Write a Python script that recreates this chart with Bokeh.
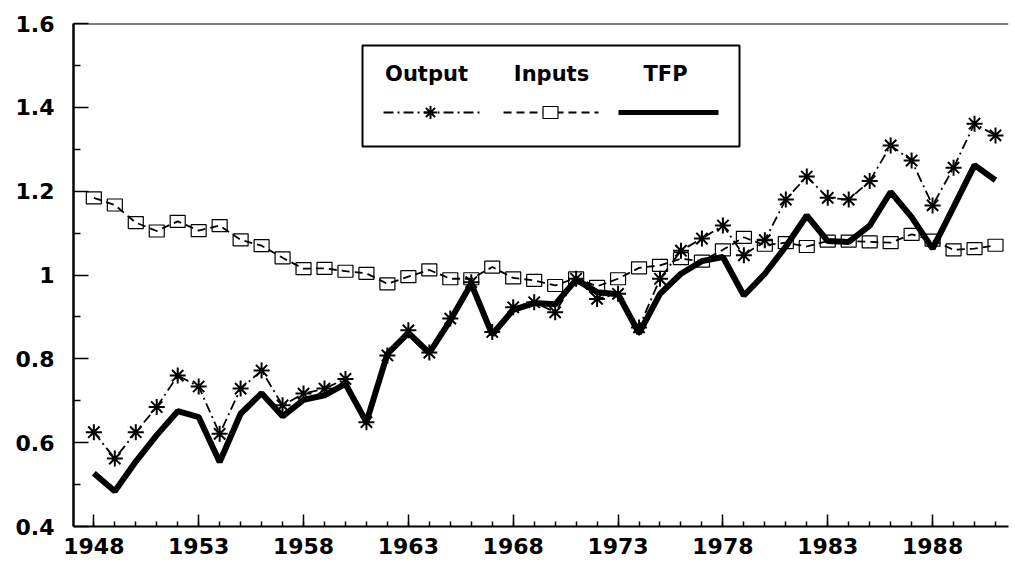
from bokeh.plotting import figure
from bokeh.models import Range1d, FixedTicker, Span, Label
from bokeh.embed import file_html
from bokeh.resources import INLINE

# ---------------- data ----------------
years = [1948, 1949, 1950, 1951, 1952, 1953, 1954, 1955, 1956, 1957, 1958,
         1959, 1960, 1961, 1962, 1963, 1964, 1965, 1966, 1967, 1968, 1969,
         1970, 1971, 1972, 1973, 1974, 1975, 1976, 1977, 1978, 1979, 1980,
         1981, 1982, 1983, 1984, 1985, 1986, 1987, 1988, 1989, 1990, 1991]

output = [0.625, 0.562, 0.625, 0.685, 0.760, 0.734, 0.621, 0.729, 0.772, 0.689,
          0.717, 0.729, 0.752, 0.649, 0.808, 0.868, 0.815, 0.896, 0.983, 0.864,
          0.923, 0.935, 0.911, 0.991, 0.943, 0.955, 0.875, 0.991, 1.058, 1.087,
          1.118, 1.047, 1.083, 1.180, 1.235, 1.184, 1.180, 1.224, 1.309, 1.273,
          1.166, 1.256, 1.361, 1.333]

inputs = [1.184, 1.167, 1.125, 1.105, 1.128, 1.106, 1.118, 1.084, 1.070, 1.041,
          1.015, 1.016, 1.009, 1.004, 0.979, 0.996, 1.012, 0.991, 0.991, 1.019,
          0.993, 0.987, 0.975, 0.993, 0.973, 0.991, 1.017, 1.023, 1.039, 1.033,
          1.060, 1.090, 1.071, 1.077, 1.068, 1.081, 1.081, 1.079, 1.077, 1.097,
          1.083, 1.060, 1.063, 1.071]

tfp = [0.527, 0.484, 0.555, 0.618, 0.675, 0.661, 0.554, 0.669, 0.718, 0.663,
       0.702, 0.713, 0.740, 0.649, 0.812, 0.862, 0.814, 0.892, 0.979, 0.858,
       0.917, 0.933, 0.930, 0.989, 0.959, 0.954, 0.861, 0.955, 1.003, 1.033,
       1.043, 0.951, 1.003, 1.068, 1.142, 1.081, 1.079, 1.118, 1.198, 1.138,
       1.063, 1.162, 1.262, 1.226]

x_tick_years = [1948, 1953, 1958, 1963, 1968, 1973, 1978, 1983, 1988]
y_ticks = [0.4, 0.6, 0.8, 1.0, 1.2, 1.4, 1.6]
y_tick_labels = ["0.4", "0.6", "0.8", "1", "1.2", "1.4", "1.6"]
y_minor = [0.5, 0.7, 0.9, 1.1, 1.3, 1.5]
series_names = ["Output", "Inputs", "TFP"]

# ---------------- layout helpers ----------------
X0, X1 = 1947.03, 1991.62
Y0, Y1 = 0.4, 1.6
FRAME_L, FRAME_T, FRAME_W, FRAME_H = 73, 23, 935, 503   # in page pixels


def px2x(px):
    return X0 + (px - FRAME_L) * (X1 - X0) / FRAME_W


def px2y(py):
    return Y0 + (FRAME_T + FRAME_H - py) * (Y1 - Y0) / FRAME_H


FONT = "DejaVu Sans"

p = figure(width=1010, height=566, output_backend="svg", toolbar_location=None,
           x_range=Range1d(X0, X1), y_range=Range1d(Y0, Y1),
           min_border_left=73, min_border_right=2, min_border_top=23,
           min_border_bottom=40)
p.outline_line_color = None
p.xgrid.visible = False
p.ygrid.visible = False
p.background_fill_color = "white"
p.border_fill_color = "white"

# axes
xa = p.xaxis[0]
xa.ticker = FixedTicker(ticks=x_tick_years, minor_ticks=years + [1947])
xa.axis_line_width = 2
xa.major_tick_in = 12
xa.major_tick_out = 0
xa.minor_tick_in = 5
xa.minor_tick_out = 0
xa.major_tick_line_width = 1.5
xa.minor_tick_line_width = 1.5
xa.major_label_standoff = 11
xa.major_label_text_font = FONT
xa.major_label_text_font_style = "bold"
xa.major_label_text_font_size = "22px"
xa.major_label_text_color = "black"

ya = p.yaxis[0]
ya.ticker = FixedTicker(ticks=y_ticks, minor_ticks=y_minor)
ya.major_label_overrides = dict(zip(y_ticks, y_tick_labels))
ya.axis_line_width = 2.5
ya.major_tick_in = 15
ya.major_tick_out = 0
ya.minor_tick_in = 7
ya.minor_tick_out = 0
ya.major_tick_line_width = 1.5
ya.minor_tick_line_width = 1.5
ya.major_label_standoff = 19
ya.major_label_text_font = FONT
ya.major_label_text_font_style = "bold"
ya.major_label_text_font_size = "22px"
ya.major_label_text_color = "black"

p.add_layout(Span(location=Y1, dimension="width", line_color="black", line_width=2))

# ---------------- series ----------------
p.rect(years, inputs, width=15, height=12, width_units="screen", height_units="screen",
       fill_color="white", line_color="black", line_width=1.2)
p.line(years, inputs, line_color="black", line_width=1.8, line_dash="8 5")
p.line(years, output, line_color="black", line_width=1.8, line_dash="10 4 2 4")
p.line(years, tfp, line_color="black", line_width=6)
p.scatter(years, output, marker="asterisk", size=16, line_color="black", line_width=2)

# ---------------- legend (manual) ----------------
p.quad(left=[px2x(362)], right=[px2x(739)], top=[px2y(45)], bottom=[px2y(146)],
       fill_color="white", line_color="black", line_width=2)

label_centers = [426, 551, 665]
for name, cx in zip(series_names, label_centers):
    p.add_layout(Label(x=px2x(cx), y=px2y(73), text=name, text_align="center",
                       text_baseline="alphabetic", text_font=FONT,
                       text_font_style="bold", text_font_size="21px",
                       text_color="black"))

ly = px2y(112)
p.line([px2x(383), px2x(480)], [ly, ly], line_color="black", line_width=1.8,
       line_dash="10 4 2 4")
p.scatter([px2x(430)], [ly], marker="asterisk", size=13, line_color="black", line_width=2)
p.line([px2x(503), px2x(598)], [ly, ly], line_color="black", line_width=1.8, line_dash="8 5")
p.rect([px2x(550)], [ly], width=15, height=12, width_units="screen", height_units="screen",
       fill_color="white", line_color="black", line_width=1.2)
p.line([px2x(618), px2x(718)], [ly, ly], line_color="black", line_width=5)

open("out.html", "w").write(file_html(p, INLINE))
